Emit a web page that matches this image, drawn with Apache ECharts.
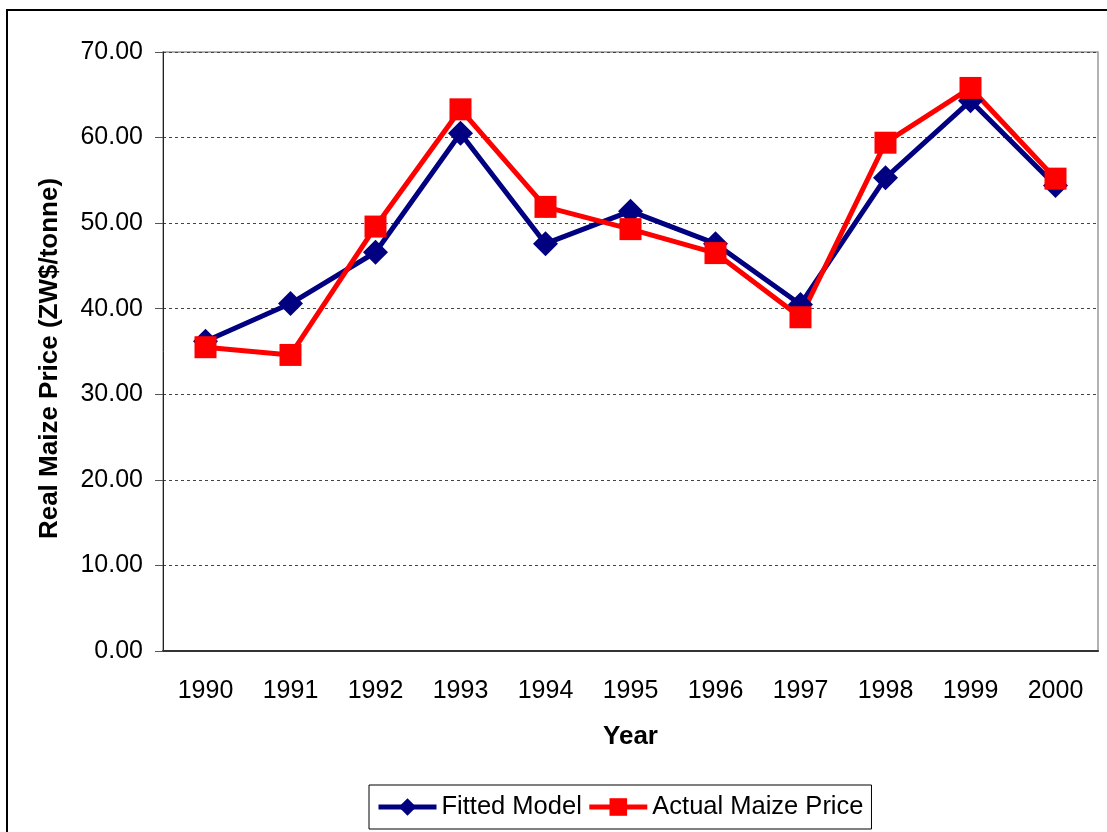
<!DOCTYPE html>
<html style="height: 100%">
<head>
    <meta charset="utf-8">
</head>
<body style="height: 100%; margin: 0; background: #fff">
    <div id="container" style="width: 1107px; height: 832px"></div>

    <script src="https://cdn.jsdelivr.net/npm/echarts@6/dist/echarts.min.js"></script>
    <script type="text/javascript">
        var years = ['1990', '1991', '1992', '1993', '1994', '1995', '1996', '1997', '1998', '1999', '2000'];
        var fittedModel = [36.2, 40.6, 46.6, 60.5, 47.6, 51.4, 47.6, 40.5, 55.3, 64.3, 54.4];
        var actualPrice = [35.5, 34.6, 49.6, 63.3, 51.9, 49.3, 46.5, 39.0, 59.4, 65.8, 55.2];

        var dom = document.getElementById('container');
        var myChart = echarts.init(dom);
        var font = 'Liberation Sans, Arial, sans-serif';

        var option = {
            animation: false,
            backgroundColor: '#fff',
            textStyle: { fontFamily: font },
            graphic: [{
                type: 'rect',
                shape: { x: 7, y: 10, width: 1200, height: 900 },
                style: { fill: 'none', stroke: '#000', lineWidth: 2 },
                z: -1
            }],
            grid: {
                left: 163,
                top: 52,
                right: 9,
                bottom: 181,
                show: true,
                borderColor: '#999',
                borderWidth: 1.5
            },
            legend: {
                bottom: 3,
                left: 369,
                itemWidth: 58,
                itemHeight: 22,
                itemGap: 5,
                padding: [9, 8, 9, 7],
                borderColor: '#000',
                borderWidth: 1,
                lineStyle: { width: 5 },
                textStyle: { fontSize: 25.5, color: '#000', fontFamily: font },
                data: ['Fitted Model', 'Actual Maize Price']
            },
            xAxis: {
                type: 'category',
                data: years,
                name: 'Year',
                nameLocation: 'middle',
                nameGap: 73,
                nameTextStyle: { fontSize: 26, fontWeight: 'bold', color: '#000' },
                axisLine: { lineStyle: { color: '#333', width: 2 } },
                axisTick: { length: 8, lineStyle: { color: '#000' } },
                axisLabel: { fontSize: 25, color: '#000', margin: 28 }
            },
            yAxis: {
                type: 'value',
                min: 0,
                max: 70,
                interval: 10,
                name: 'Real Maize Price (ZW$/tonne)',
                nameLocation: 'middle',
                nameGap: 100,
                nameTextStyle: { fontSize: 26, fontWeight: 'bold', color: '#000', padding: [0, 14, 0, 0] },
                axisLine: { show: true, lineStyle: { color: '#222', width: 1 } },
                axisTick: { show: true, length: 8, lineStyle: { color: '#555' } },
                axisLabel: {
                    fontSize: 25, color: '#000', margin: 20,
                    formatter: function (v) { return v.toFixed(2); }
                },
                splitLine: { lineStyle: { color: '#444', type: [3, 3], width: 1 } }
            },
            series: [
                {
                    name: 'Fitted Model',
                    type: 'line',
                    data: fittedModel,
                    symbol: 'diamond',
                    symbolSize: 25,
                    color: '#000080',
                    lineStyle: { width: 5, color: '#000080' },
                    itemStyle: { color: '#000080' }
                },
                {
                    name: 'Actual Maize Price',
                    type: 'line',
                    data: actualPrice,
                    symbol: 'rect',
                    symbolSize: 22,
                    color: '#ff0000',
                    lineStyle: { width: 5, color: '#ff0000' },
                    itemStyle: { color: '#ff0000' }
                }
            ]
        };

        myChart.setOption(option);
    </script>
</body>
</html>
